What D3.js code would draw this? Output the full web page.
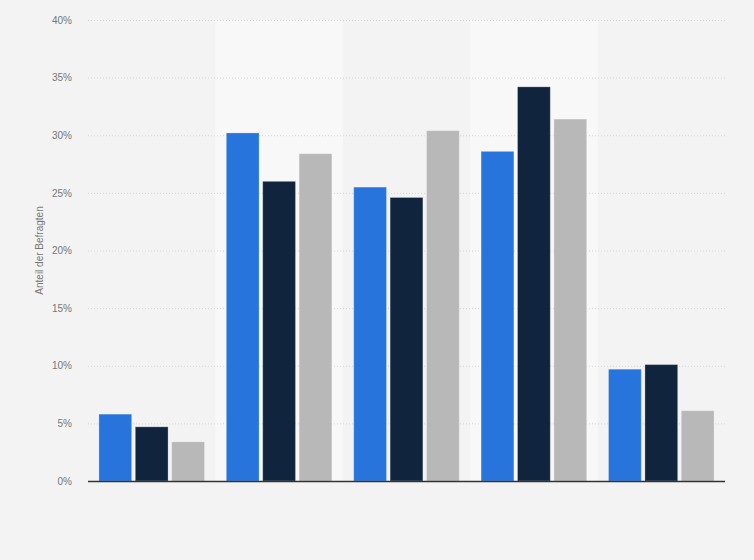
<!DOCTYPE html>
<html>
<head>
<meta charset="utf-8">
<script src="https://cdn.jsdelivr.net/npm/d3@7"></script>
<style>
	body { margin: 0; background: #f3f3f3; }
	svg { display: block; font-family: "Liberation Sans", Arial, sans-serif; }
	.tick text { fill: #777; font-size: 10px; }
</style>
</head>
<body>
<div id="chart"></div>
<script>
// five answer groups (no labels shown in the picture), three series each
var groups = ["g1", "g2", "g3", "g4", "g5"];
var seriesNames = ["s1", "s2", "s3"];
var seriesColors = ["#2775dc", "#10253d", "#b8b8b8"];

var s1Values = [5.8, 30.2, 25.5, 28.6, 9.7];
var s2Values = [4.7, 26.0, 24.6, 34.2, 10.1];
var s3Values = [3.4, 28.4, 30.4, 31.4, 6.1];

var yTicks = [0, 5, 10, 15, 20, 25, 30, 35, 40];
var yTitle = "Anteil der Befragten";

var width = 754, height = 560;
var margin = {top: 20, right: 29, bottom: 79, left: 88};
var innerW = width - margin.left - margin.right;
var innerH = height - margin.top - margin.bottom;

var allValues = [s1Values, s2Values, s3Values];
var rows = groups.map(function (g, i) {
	return {group: g, vals: seriesNames.map(function (s, j) {
		return {series: s, idx: j, value: allValues[j][i]};
	})};
});

var svg = d3.select("#chart").append("svg")
	.attr("width", width)
	.attr("height", height);

svg.append("rect")
	.attr("width", width)
	.attr("height", height)
	.attr("fill", "#f3f3f3");

var g = svg.append("g")
	.attr("transform", "translate(" + margin.left + "," + margin.top + ")");

var x0 = d3.scaleBand().domain(groups).range([0, innerW]).padding(0);
var x1 = d3.scaleBand().domain(seriesNames).range([0, x0.bandwidth()])
	.paddingInner(0.1).paddingOuter(0.3);
var y = d3.scaleLinear().domain([0, 40]).range([innerH, 0]);

// lighter background bands on every second group
g.selectAll("rect.band")
	.data(groups.filter(function (d, i) { return i % 2 === 1; }))
	.enter().append("rect")
	.attr("class", "band")
	.attr("x", function (d) { return x0(d); })
	.attr("y", 0)
	.attr("width", x0.bandwidth())
	.attr("height", innerH)
	.attr("fill", "#f8f8f8");

// y axis with dotted gridlines
var yAxis = g.append("g")
	.call(d3.axisLeft(y)
		.tickValues(yTicks)
		.tickSize(-innerW)
		.tickPadding(16)
		.tickFormat(function (d) { return d + "%"; }));
yAxis.select(".domain").remove();
yAxis.selectAll(".tick line")
	.attr("stroke", "#d4d4d4")
	.attr("stroke-dasharray", "1,2");
yAxis.selectAll(".tick")
	.filter(function (d) { return d === 0; })
	.select("line").remove();

svg.append("text")
	.attr("transform", "translate(43," + (margin.top + innerH / 2) + ") rotate(-90)")
	.attr("text-anchor", "middle")
	.attr("fill", "#777")
	.attr("font-size", "10px")
	.text(yTitle);

// bars
var grp = g.selectAll("g.grp")
	.data(rows)
	.enter().append("g")
	.attr("class", "grp")
	.attr("transform", function (d) { return "translate(" + x0(d.group) + ",0)"; });

grp.selectAll("rect")
	.data(function (d) { return d.vals; })
	.enter().append("rect")
	.attr("x", function (d) { return x1(d.series); })
	.attr("y", function (d) { return y(d.value); })
	.attr("width", x1.bandwidth())
	.attr("height", function (d) { return innerH - y(d.value); })
	.attr("fill", function (d) { return seriesColors[d.idx]; })
	.attr("stroke", "rgba(255,255,255,0.25)")
	.attr("stroke-width", 1);

// baseline
g.append("line")
	.attr("x1", 0)
	.attr("x2", innerW)
	.attr("y1", y(0) + 0.5)
	.attr("y2", y(0) + 0.5)
	.attr("stroke", "#333")
	.attr("stroke-width", 1.5);
</script>
</body>
</html>
